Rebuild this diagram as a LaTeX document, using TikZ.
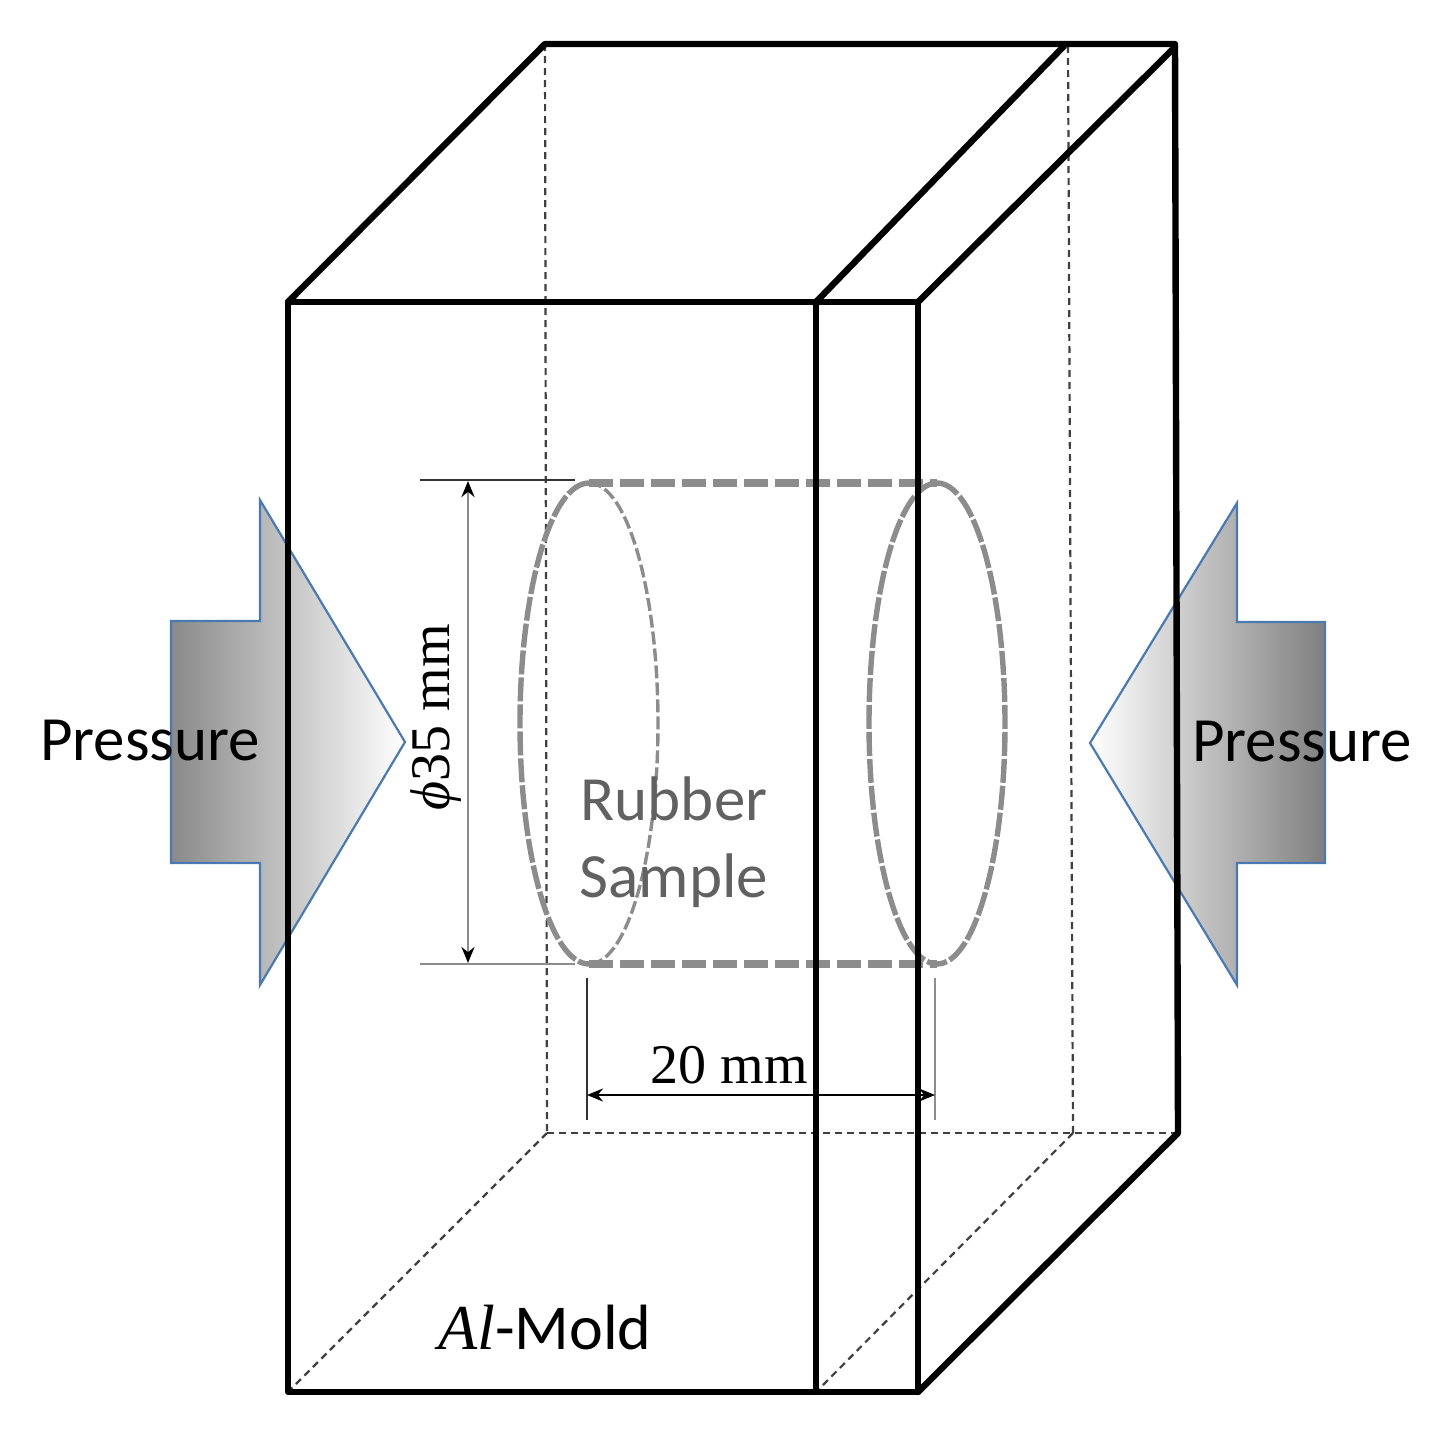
\documentclass[tikz,border=0pt]{standalone}
\usepackage{fontspec}
\setmainfont{Carlito}
\newfontfamily\dimfont{Liberation Serif}
\usetikzlibrary{arrows.meta}
\definecolor{bluearrow}{HTML}{4A7AB0}
\definecolor{cyl}{HTML}{8C8C8C}
\tikzset{
  frameline/.style={line width=6.4pt,black,line cap=round,line join=round},
  hiddenline/.style={line width=2.2pt,black!75,dash pattern=on 7pt off 5pt},
  pressarrow/.style={draw=bluearrow,line width=2.2pt,line join=miter},
  cylthin/.style={line width=3.4pt,cyl,dash pattern=on 13pt off 4pt},
  cylthick/.style={line width=5.4pt,cyl,dash pattern=on 24pt off 3pt},
  cylwide/.style={line width=8pt,cyl,dash pattern=on 24pt off 7pt},
  dimline/.style={line width=2.6pt,black!80},
  dimgray/.style={line width=2.8pt,black!45},
  dimarrow/.style={{Stealth[length=16pt,width=13pt,color=black]}-{Stealth[length=16pt,width=13pt,color=black]}},
  presslabel/.style={font=\fontsize{63}{67}\selectfont,text=black,inner sep=0pt},
  moldlabel/.style={font=\fontsize{64}{68}\selectfont,text=black,inner sep=0pt},
  samplelabel/.style={font=\fontsize{63}{67}\selectfont,text=black!62,inner sep=0pt},
  dimlabel/.style={font=\dimfont\fontsize{56}{60}\selectfont,text=black,inner sep=0pt},
}
\begin{document}
\begin{tikzpicture}[x=1pt,y=-1pt]
\useasboundingbox (0,0) rectangle (1438,1432);
% pressure arrows
\path[pressarrow,left color=black!46,right color=white]
  (171,621) -- (260,621) -- (260,500) -- (405,742) -- (260,985) -- (260,863) -- (171,863) -- cycle;
\path[pressarrow,right color=black!50,left color=white]
  (1325,622) -- (1237,622) -- (1237,503) -- (1090,743) -- (1237,985) -- (1237,863) -- (1325,863) -- cycle;
% box corners
\coordinate (ftl) at (288,302);
\coordinate (ftm) at (816,302);
\coordinate (ftr) at (918,302);
\coordinate (fbl) at (288,1392);
\coordinate (fbm) at (816,1392);
\coordinate (fbr) at (918,1392);
\coordinate (btl) at (545,44);
\coordinate (btm) at (1064,46);
\coordinate (bthm) at (1068,46);
\coordinate (btr) at (1175,44);
\coordinate (btr2) at (1175,47);
\coordinate (bbl) at (547,1133);
\coordinate (bbm) at (1073,1133);
\coordinate (bbr) at (1178,1133);
% hidden edges
\draw[hiddenline] (btl) -- (bbl);
\draw[hiddenline] (bthm) -- (bbm);
\draw[hiddenline] (bbl) -- (bbr);
\draw[hiddenline] (bbl) -- (fbl);
\draw[hiddenline] (bbm) -- (fbm);
% cylinder (y axis points down: -90 is the top of each ellipse)
\coordinate (cyltl) at (589,483);
\coordinate (cyltr) at (937,483);
\coordinate (cylbl) at (589,964);
\coordinate (cylbr) at (937,964);
\draw[cylthin] (cyltl) arc[start angle=-90,end angle=90,x radius=69,y radius=240.5];
\draw[cylthick] (cyltl) arc[start angle=-90,end angle=-270,x radius=69,y radius=240.5];
\draw[cylthick] (cyltr) arc[start angle=-90,end angle=-270,x radius=68,y radius=240.5];
\draw[cylthick] (cyltr) arc[start angle=-90,end angle=90,x radius=68,y radius=240.5];
\draw[cylwide] (cyltl) -- (cyltr);
\draw[cylwide] (cylbl) -- (cylbr);
% front and outer edges
\draw[frameline] (ftl) rectangle (fbr);
\draw[frameline] (ftm) -- (fbm);
\draw[frameline] (ftl) -- (btl) -- (btr) -- (bbr) -- (fbr);
\draw[frameline] (ftm) -- (btm);
\draw[frameline] (ftr) -- (btr2);
% dimensions
\coordinate (d1a) at (420,480);
\coordinate (d1b) at (575,480);
\coordinate (d2a) at (420,964);
\coordinate (d2b) at (575,964);
\coordinate (d3a) at (468,481);
\coordinate (d3b) at (468,963);
\coordinate (d4a) at (587,978);
\coordinate (d4b) at (587,1120);
\coordinate (d5a) at (935,978);
\coordinate (d5b) at (935,1120);
\coordinate (d6a) at (587,1095);
\coordinate (d6b) at (935,1095);
\draw[dimline] (d1a) -- (d1b);
\draw[dimgray] (d2a) -- (d2b);
\draw[dimgray,dimarrow] (d3a) -- (d3b);
\draw[dimline] (d4a) -- (d4b);
\draw[dimgray] (d5a) -- (d5b);
\draw[dimline,black,dimarrow] (d6a) -- (d6b);
% labels
\node[presslabel] (pl) at (150,741) {Pressure};
\node[presslabel] (pr) at (1302,742) {Pressure};
\node[samplelabel] (s1) at (674,799) {Rubber};
\node[samplelabel] (s2) at (674,881) {Sample};
\node[dimlabel] (w) at (729,1065) {20 mm};
\node[dimlabel,rotate=90] (d) at (436,717) {\textit{ϕ}35 mm};
\node[moldlabel] (m) at (545,1327) {{\dimfont\textit{Al}}-Mold};
\end{tikzpicture}
\end{document}
